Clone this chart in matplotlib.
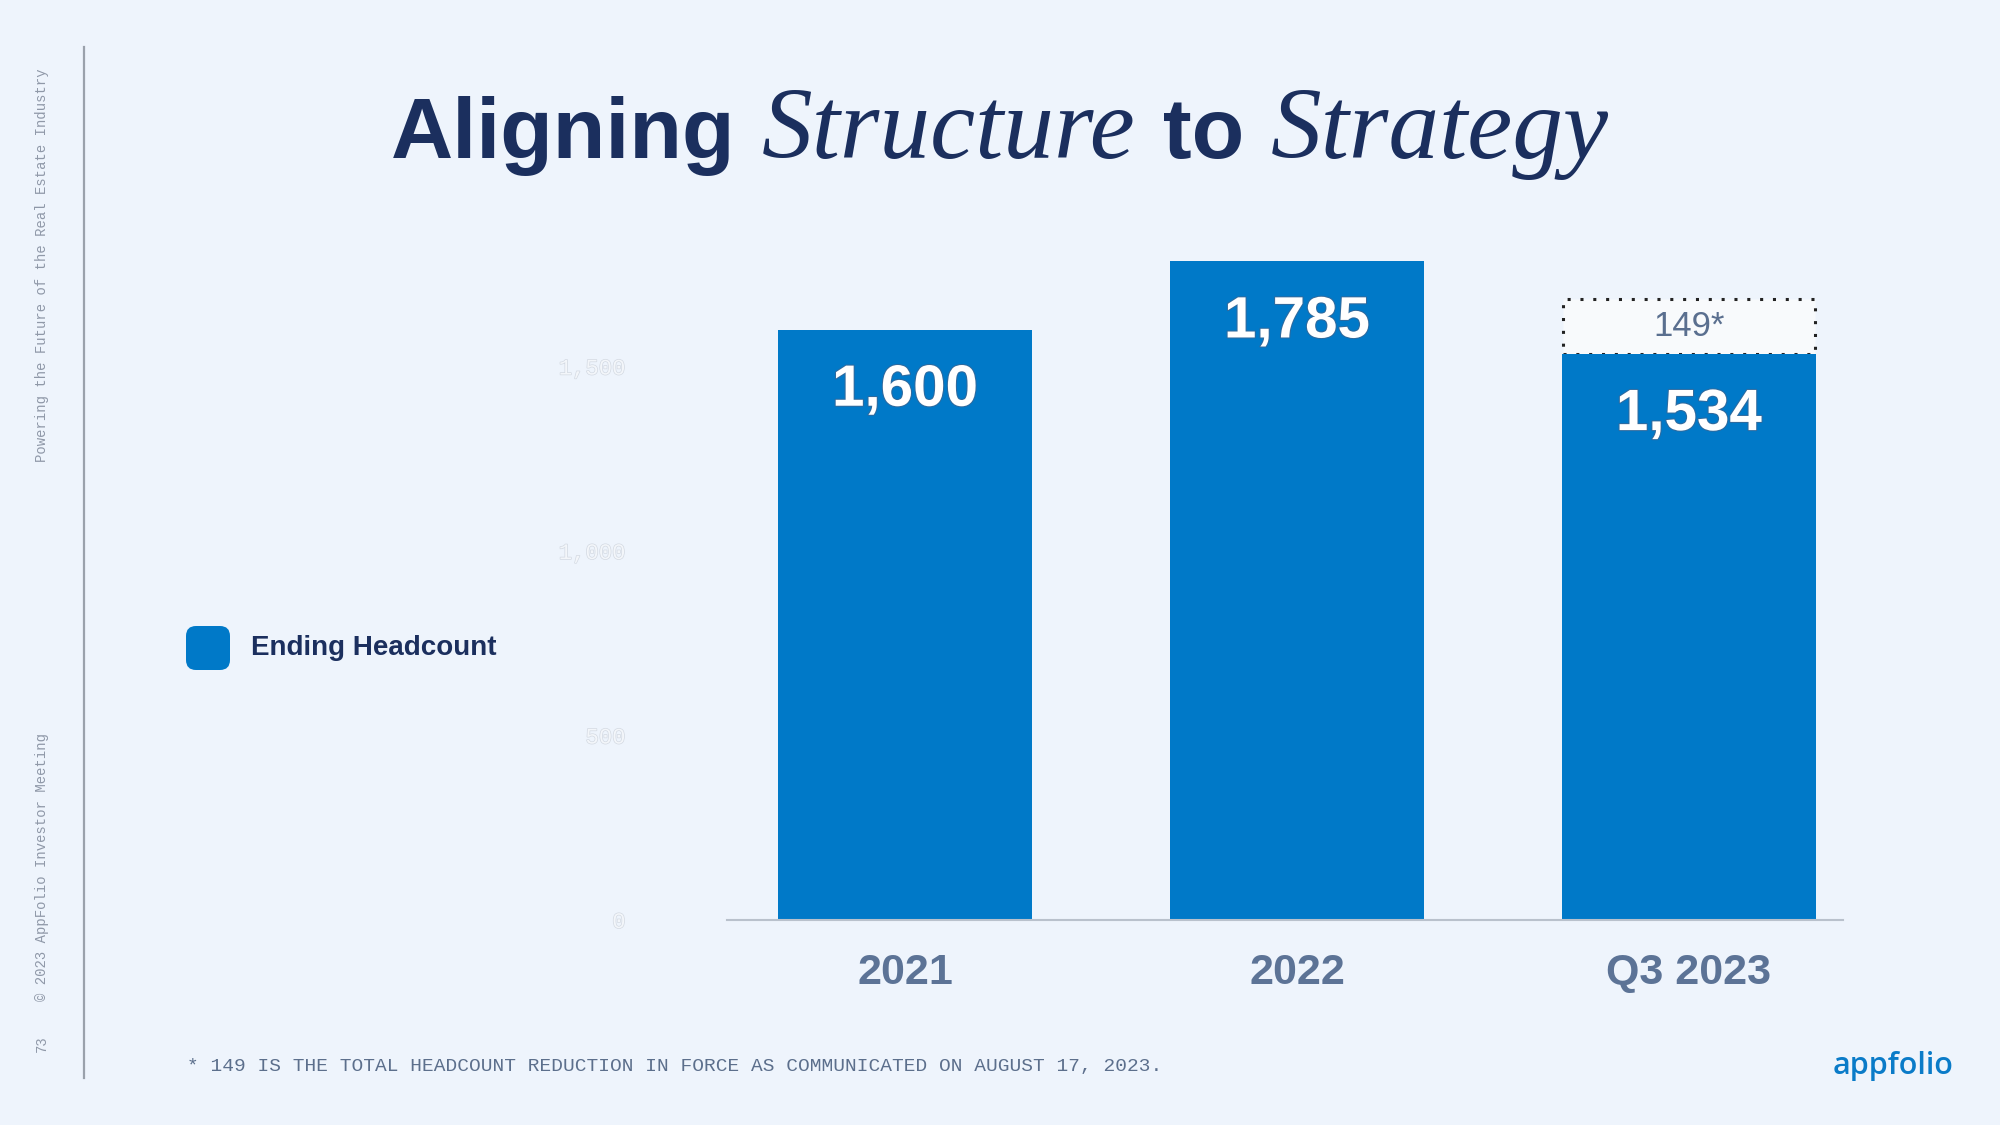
import matplotlib
matplotlib.use("Agg")
import matplotlib.pyplot as plt
import matplotlib.patheffects as pe
from matplotlib.patches import FancyBboxPatch
from matplotlib.lines import Line2D

# data
categories = ["2021", "2022", "Q3 2023"]
headcount = [1600, 1785, 1534]
value_labels = ["1,600", "1,785", "1,534"]
reduction = 149
reduction_label = "149*"
yticks = [0, 500, 1000, 1500]
ytick_labels = ["0", "500", "1,000", "1,500"]

BG = "#eef4fc"
BLUE = "#0079c8"
NAVY = "#1b2f5e"
SLATE = "#5c7396"

fig = plt.figure(figsize=(20, 11.25), dpi=100, facecolor=BG)

ax = fig.add_axes([0.3635, 0.1822, 0.558, 0.656])
ax.set_facecolor(BG)
x = list(range(len(categories)))
ax.bar(x, headcount, width=0.648, color=BLUE, zorder=2)

# reduction box on top of the last bar
ax.bar(x[-1], reduction, bottom=headcount[-1], width=0.642, color="#f8fafc",
       edgecolor="#222222", linestyle=(0, (1, 3.2)), linewidth=2.2, zorder=1)
ax.text(x[-1], headcount[-1] + reduction / 2, reduction_label, ha="center",
        va="center", fontsize=25, color="#5a6f8f", family="Liberation Sans", zorder=3)

for xi, v, lab in zip(x, headcount, value_labels):
    ax.annotate(lab, (xi, v), xytext=(0, -44), textcoords="offset points",
                ha="center", va="center", fontsize=42, fontweight="bold",
                color="white", family="Liberation Sans", zorder=3,
                path_effects=[pe.withStroke(linewidth=1.5, foreground="#2f6a9e")])

ax.set_xlim(-0.454, 2.393)
ax.set_ylim(0, 2000)
ax.set_xticks(x)
ax.set_xticklabels(categories, fontsize=31, fontweight="bold", color=SLATE,
                   family="Liberation Sans")
ax.set_yticks(yticks)
ax.set_yticklabels(ytick_labels, fontsize=16, color="#f3f6fa", family="Liberation Mono")
for t in ax.get_yticklabels():
    t.set_path_effects([pe.withStroke(linewidth=1.0, foreground="#d3d9e2")])
ax.tick_params(axis="x", length=0, pad=24)
ax.tick_params(axis="y", length=0, pad=73)
for s in ["top", "right", "left"]:
    ax.spines[s].set_visible(False)
ax.spines["bottom"].set_color("#b9c1cc")
ax.spines["bottom"].set_linewidth(1.5)

# title with mixed fonts
renderer = fig.canvas.get_renderer()
parts = [("Aligning", dict(family="Liberation Sans", fontweight="bold", fontsize=62)),
         ("Structure", dict(family="Liberation Serif", style="italic", fontsize=73)),
         ("to", dict(family="Liberation Sans", fontweight="bold", fontsize=62)),
         ("Strategy", dict(family="Liberation Serif", style="italic", fontsize=73))]
gap = 27
texts = []
widths = []
for s, kw in parts:
    t = fig.text(0, 1 - 158 / 1125, s, color=NAVY, va="baseline", ha="left", **kw)
    widths.append(t.get_window_extent(renderer).width)
    texts.append(t)
total = sum(widths) + gap * (len(parts) - 1)
xpos = 1000 - total / 2
for t, w in zip(texts, widths):
    t.set_x(xpos / 2000)
    xpos += w + gap

# legend
fig.patches.append(FancyBboxPatch((186 / 2000, 1 - 670 / 1125), 44 / 2000, 44 / 1125,
                                  boxstyle="round,pad=0,rounding_size=0.005",
                                  transform=fig.transFigure, facecolor=BLUE,
                                  edgecolor="none", mutation_aspect=1.78))
fig.text(251 / 2000, 1 - 648 / 1125, "Ending Headcount", fontsize=20, fontweight="bold",
         color=NAVY, family="Liberation Sans", va="center", ha="left")

# side decorations
fig.add_artist(Line2D([84 / 2000, 84 / 2000], [1 - 47 / 1125, 1 - 1078 / 1125],
                      transform=fig.transFigure, color="#9aa1ab", linewidth=1.6))
side = dict(rotation=90, fontsize=10, color="#8f98a8", family="Liberation Mono", ha="center")
fig.text(42 / 2000, 1 - 462 / 1125, "Powering the Future of the Real Estate Industry",
         va="bottom", **side)
fig.text(42 / 2000, 1 - 1001 / 1125, "\u00a9 2023 AppFolio Investor Meeting",
         va="bottom", **side)
fig.text(42 / 2000, 1 - 1052 / 1125, "73", va="bottom", **side)

# footer
fig.text(187 / 2000, 1 - 1066 / 1125,
         "* 149 IS THE TOTAL HEADCOUNT REDUCTION IN FORCE AS COMMUNICATED ON AUGUST 17, 2023.",
         fontsize=14.0, color="#5c6f8c", family="Liberation Mono", va="center", ha="left")
fig.text(1953 / 2000, 1 - 1066 / 1125, "appfolio", fontsize=22, color="#0a7bc8",
         family="Open Sans", fontweight="semibold", va="center", ha="right")

fig.savefig("out.png", dpi=100, facecolor=BG)
